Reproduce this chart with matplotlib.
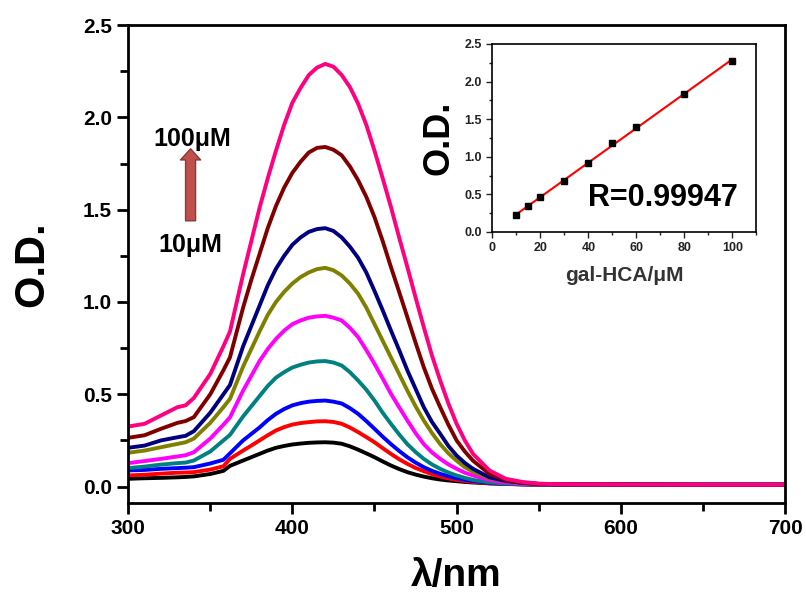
import numpy as np
import matplotlib
matplotlib.use('Agg')
import matplotlib.pyplot as plt
from matplotlib.ticker import MultipleLocator

plt.rcParams['font.family'] = ['Liberation Sans', 'DejaVu Sans']
plt.rcParams['font.weight'] = 'bold'

# wavelengths (nm)
wl = [300, 310, 320, 330, 335, 340, 350, 358, 362, 370,
      375, 380, 385, 390, 395, 400, 405, 410, 415, 420, 425, 430, 435, 440,
      445, 450, 455, 460, 465, 470, 475, 480, 485, 490, 495, 500, 505, 510,
      520, 530, 540, 550, 560, 600, 650, 700]

# spectra, one per concentration (10 -> 100 uM)
od_10 = [0.042, 0.045, 0.047, 0.05, 0.052, 0.055, 0.068, 0.085, 0.112, 0.141,
         0.159, 0.177, 0.195, 0.21, 0.22, 0.228, 0.233, 0.237, 0.239, 0.24, 0.238, 0.232, 0.218, 0.20,
         0.18, 0.159, 0.136, 0.114, 0.095, 0.078, 0.065, 0.054, 0.045, 0.038, 0.033, 0.029, 0.025, 0.022,
         0.017, 0.014, 0.012, 0.011, 0.01, 0.01, 0.01, 0.01]
od_15 = [0.06, 0.064, 0.07, 0.075, 0.076, 0.078, 0.092, 0.11, 0.15, 0.195,
         0.222, 0.25, 0.278, 0.304, 0.322, 0.336, 0.344, 0.349, 0.353, 0.354, 0.35, 0.34, 0.32, 0.295,
         0.268, 0.24, 0.208, 0.177, 0.148, 0.123, 0.101, 0.083, 0.067, 0.054, 0.044, 0.036, 0.03, 0.025,
         0.018, 0.014, 0.012, 0.011, 0.01, 0.01, 0.01, 0.01]
od_20 = [0.087, 0.09, 0.096, 0.10, 0.102, 0.105, 0.125, 0.145, 0.18, 0.25,
         0.285, 0.32, 0.36, 0.394, 0.42, 0.44, 0.452, 0.46, 0.464, 0.466, 0.46, 0.45, 0.425, 0.394,
         0.355, 0.313, 0.27, 0.23, 0.193, 0.159, 0.13, 0.105, 0.085, 0.069, 0.056, 0.045, 0.037, 0.03,
         0.02, 0.015, 0.012, 0.011, 0.01, 0.01, 0.01, 0.01]
od_30 = [0.10, 0.108, 0.119, 0.127, 0.13, 0.141, 0.19, 0.25, 0.28, 0.38,
         0.435, 0.49, 0.545, 0.59, 0.62, 0.645, 0.66, 0.672, 0.678, 0.68, 0.672, 0.656, 0.62, 0.575,
         0.525, 0.466, 0.40, 0.34, 0.283, 0.23, 0.187, 0.15, 0.12, 0.096, 0.076, 0.06, 0.047, 0.036,
         0.023, 0.016, 0.013, 0.012, 0.011, 0.01, 0.01, 0.01]
od_40 = [0.127, 0.138, 0.15, 0.163, 0.17, 0.186, 0.26, 0.335, 0.375, 0.52,
         0.60, 0.68, 0.745, 0.80, 0.845, 0.88, 0.90, 0.915, 0.922, 0.925, 0.915, 0.90, 0.86, 0.81,
         0.74, 0.665, 0.585, 0.503, 0.43, 0.358, 0.29, 0.23, 0.185, 0.15, 0.12, 0.096, 0.075, 0.06,
         0.035, 0.022, 0.016, 0.013, 0.012, 0.011, 0.01, 0.01]
od_50 = [0.183, 0.195, 0.213, 0.231, 0.24, 0.26, 0.345, 0.43, 0.475, 0.65,
         0.745, 0.84, 0.93, 1.00, 1.055, 1.10, 1.135, 1.16, 1.178, 1.185, 1.172, 1.144, 1.10, 1.045,
         0.97, 0.88, 0.79, 0.70, 0.61, 0.52, 0.435, 0.358, 0.29, 0.23, 0.18, 0.14, 0.105, 0.08,
         0.045, 0.03, 0.02, 0.014, 0.012, 0.011, 0.01, 0.01]
od_60 = [0.21, 0.222, 0.25, 0.267, 0.275, 0.30, 0.40, 0.50, 0.55, 0.76,
         0.87, 0.98, 1.09, 1.18, 1.25, 1.31, 1.35, 1.38, 1.395, 1.40, 1.385, 1.35, 1.30, 1.24,
         1.16, 1.06, 0.955, 0.846, 0.74, 0.63, 0.53, 0.43, 0.35, 0.286, 0.22, 0.168, 0.128, 0.096,
         0.05, 0.03, 0.02, 0.014, 0.012, 0.011, 0.01, 0.01]
od_80 = [0.264, 0.278, 0.313, 0.345, 0.355, 0.376, 0.50, 0.63, 0.70, 0.97,
         1.12, 1.26, 1.40, 1.52, 1.62, 1.70, 1.76, 1.81, 1.835, 1.84, 1.825, 1.795, 1.735, 1.66,
         1.57, 1.46, 1.33, 1.19, 1.055, 0.918, 0.78, 0.647, 0.53, 0.43, 0.335, 0.25, 0.19, 0.14,
         0.069, 0.035, 0.02, 0.014, 0.012, 0.011, 0.01, 0.01]
od_100 = [0.325, 0.34, 0.385, 0.43, 0.44, 0.48, 0.61, 0.76, 0.84, 1.15,
          1.33, 1.51, 1.67, 1.82, 1.96, 2.08, 2.16, 2.23, 2.27, 2.29, 2.275, 2.23, 2.165, 2.075,
          1.96, 1.82, 1.67, 1.515, 1.35, 1.19, 1.025, 0.864, 0.71, 0.575, 0.45, 0.34, 0.25, 0.177,
          0.087, 0.042, 0.025, 0.016, 0.013, 0.011, 0.01, 0.01]

spectra = [od_10, od_15, od_20, od_30, od_40, od_50, od_60, od_80, od_100]
colors = ['#000000', '#ff0000', '#0000ff', '#008080', '#ff00ff',
          '#808000', '#000080', '#800000', '#ff0080']

# inset: calibration
conc = [10, 15, 20, 30, 40, 50, 60, 80, 100]
od_peak = [0.23, 0.35, 0.46, 0.68, 0.92, 1.18, 1.40, 1.84, 2.28]

fig = plt.figure(figsize=(8.06, 5.99), dpi=100)
ax = fig.add_axes([0.159, 0.160, 0.815, 0.798])

for y, c in zip(spectra, colors):
    ax.plot(wl, y, color=c, lw=2.8, solid_joinstyle='round')

ax.set_xlim(300, 700)
ax.set_ylim(-0.09, 2.5)
ax.xaxis.set_major_locator(MultipleLocator(100))
ax.xaxis.set_minor_locator(MultipleLocator(50))
ax.yaxis.set_major_locator(MultipleLocator(0.5))
ax.yaxis.set_minor_locator(MultipleLocator(0.25))
ax.yaxis.set_major_formatter(plt.FormatStrFormatter('%.1f'))
ax.tick_params(which='both', direction='out', width=2, top=False, right=False, labelsize=15)
ax.tick_params(which='major', length=8)
ax.tick_params(which='minor', length=6)
for s in ax.spines.values():
    s.set_linewidth(2)
ax.set_xlabel('λ/nm', fontsize=28, fontweight='bold', labelpad=14)
ax.set_ylabel('O.D.', fontsize=30, fontweight='bold', labelpad=22)

ax.text(339, 1.885, '100μM', fontsize=18, fontweight='bold', ha='center', va='center')
ax.text(338, 1.31, '10μM', fontsize=18, fontweight='bold', ha='center', va='center')
ax.annotate('', xy=(338, 1.83), xytext=(338, 1.44),
            arrowprops=dict(arrowstyle='simple,head_length=0.8,head_width=1.45,tail_width=0.72',
                            fc='#c0504d', ec='#8c3836', lw=1, shrinkA=0, shrinkB=0))

# inset
axi = fig.add_axes([0.611, 0.6127, 0.3275, 0.3139])
slope, icpt = np.polyfit(conc, od_peak, 1)
xf = np.array([min(conc), max(conc)])
axi.plot(xf, slope * xf + icpt, color='#ff0000', lw=1.5)
axi.plot(conc, od_peak, 's', color='#000000', ms=4)
axi.set_xlim(0, 110)
axi.set_ylim(0, 2.5)
axi.xaxis.set_major_locator(MultipleLocator(20))
axi.xaxis.set_minor_locator(MultipleLocator(10))
axi.yaxis.set_major_locator(MultipleLocator(0.5))
axi.yaxis.set_minor_locator(MultipleLocator(0.25))
axi.yaxis.set_major_formatter(plt.FormatStrFormatter('%.1f'))
axi.tick_params(which='both', direction='out', width=1, top=False, right=False, labelsize=9, colors='#222222')
axi.tick_params(which='major', length=4)
axi.tick_params(which='minor', length=2.5)
for s in axi.spines.values():
    s.set_linewidth(1.2)
axi.set_xlabel('gal-HCA/μM', fontsize=15, fontweight='bold', color='#333333', labelpad=8)
axi.set_ylabel('O.D.', fontsize=26, fontweight='bold', labelpad=6)
axi.text(0.93, 0.18, 'R=0.99947', transform=axi.transAxes, fontsize=22,
         fontweight='bold', ha='right', va='center')

fig.savefig('out.png', dpi=100)
